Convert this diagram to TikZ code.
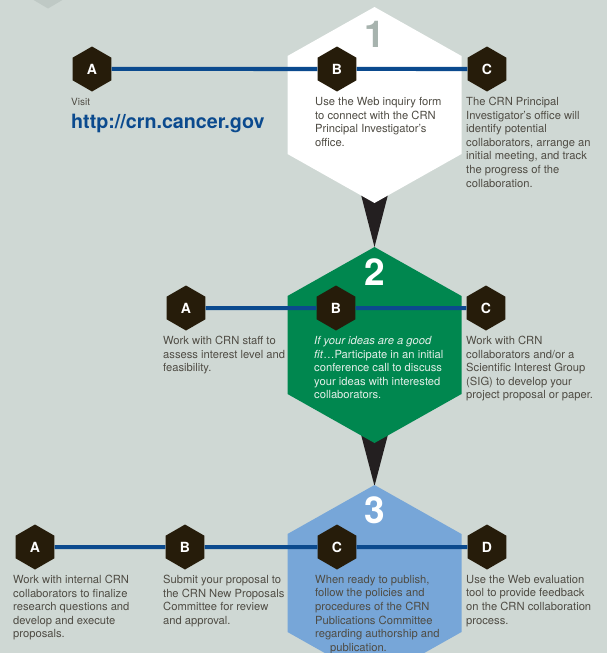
\documentclass[tikz,border=0pt]{standalone}
\usepackage{fontspec}
\setmainfont{TeX Gyre Heros}
\usepackage{tikz}
\usetikzlibrary{shapes.geometric}
\definecolor{bgcolor}{HTML}{CFD8D4}
\definecolor{shadehex}{HTML}{BFC9C5}
\definecolor{hexbrown}{HTML}{261C0A}
\definecolor{arrowblack}{HTML}{231F20}
\definecolor{linkblue}{HTML}{0B4A8E}
\definecolor{stepgreen}{HTML}{00874F}
\definecolor{stepblue}{HTML}{77A6D8}
\definecolor{onegray}{HTML}{A7B3AE}
\definecolor{notegray}{HTML}{4F4C44}
\definecolor{notelight}{HTML}{E4EFE9}
\tikzset{
  >=latex,
}
\tikzstyle{letter}=[regular polygon,regular polygon sides=6,shape border rotate=30,
  minimum size=45pt,inner sep=0pt,fill=hexbrown,text=white,
  font=\bfseries\fontsize{14}{14}\selectfont]
\tikzstyle{link}=[line width=4pt,linkblue]
\tikzstyle{note}=[anchor=north west,align=left,inner sep=0pt,text=notegray,
  font=\fontsize{11.2}{13.6}\selectfont]
\tikzstyle{stepnum}=[font=\bfseries\fontsize{37}{37}\selectfont]
\tikzstyle{pointer}=[fill=arrowblack]

\begin{document}
\begin{tikzpicture}[x=1pt,y=-1pt]
    \useasboundingbox (0,0) rectangle (607,653);
    \clip (0,0) rectangle (607,653);
    \fill[bgcolor] (0,0) rectangle (607,653);
    \fill[shadehex] (48,-36.5) -- (67.5,-25) -- (67.5,-3) -- (48,8.5) -- (28.5,-3) -- (28.5,-25) -- cycle;
    % arrows between the steps
    \fill[pointer] (358.5,185) -- (390.5,185) -- (374.5,247) -- cycle;
    \fill[pointer] (358.5,425) -- (390.5,425) -- (374.5,486) -- cycle;
    % the three steps
    \fill[white] (374.5,7) -- (461.5,56) -- (461.5,154) -- (374.5,203) -- (287.5,154) -- (287.5,56) -- cycle;
    \fill[stepgreen] (374.5,247) -- (461.5,296) -- (461.5,394) -- (374.5,443) -- (287.5,394) -- (287.5,296) -- cycle;
    \fill[stepblue] (374.5,485) -- (461.5,534) -- (461.5,632) -- (374.5,681) -- (287.5,632) -- (287.5,534) -- cycle;
    \node[stepnum,text=onegray] (n1) at (375,34) {1};
    \node[stepnum,text=white] (n2) at (375,272) {2};
    \node[stepnum,text=white] (n3) at (375,510) {3};

    % step 1
    \node[letter] (a1) at (92,69) {A};
    \node[letter] (b1) at (337,69) {B};
    \node[letter] (c1) at (487,69) {C};
    \draw[link] (a1) -- (b1) -- (c1);
    \node[note,font=\fontsize{10}{10}\selectfont] (visit) at (71,98) {Visit};
    \node[anchor=north west,inner sep=0pt,text=linkblue,font=\bfseries\fontsize{19.7}{19.7}\selectfont] (url) at (71,113.5) {http://crn.cancer.gov};
    \node[note] (b1txt) at ([xshift=-22pt,yshift=-28pt]b1.center) {Use the Web inquiry form\\to connect with the CRN\\Principal Investigator’s\\office.};
    \node[note] (c1txt) at ([xshift=-21pt,yshift=-28pt]c1.center) {The CRN Principal\\Investigator’s office will\\identify potential\\collaborators, arrange an\\initial meeting, and track\\the progress of the\\collaboration.};

    % step 2
    \node[letter] (a2) at (186,308) {A};
    \node[letter] (b2) at (336,308) {B};
    \node[letter] (c2) at (486,308) {C};
    \draw[link] (a2) -- (b2) -- (c2);
    \node[note] (a2txt) at ([xshift=-23pt,yshift=-28pt]a2.center) {Work with CRN staff to\\assess interest level and\\feasibility.};
    \node[note,text=notelight] (b2txt) at ([xshift=-22pt,yshift=-28pt]b2.center) {\textit{If your ideas are a good}\\\textit{fit}…Participate in an initial\\conference call to discuss\\your ideas with interested\\collaborators.};
    \node[note] (c2txt) at ([xshift=-20pt,yshift=-28pt]c2.center) {Work with CRN\\collaborators and/or a\\Scientific Interest Group\\(SIG) to develop your\\project proposal or paper.};

    % step 3
    \node[letter] (a3) at (35,547) {A};
    \node[letter] (b3) at (185,547) {B};
    \node[letter] (c3) at (337,547) {C};
    \node[letter] (d3) at (487,547) {D};
    \draw[link] (a3) -- (b3) -- (c3) -- (d3);
    \node[note] (a3txt) at ([xshift=-22pt,yshift=-28pt]a3.center) {Work with internal CRN\\collaborators to finalize\\research questions and\\develop and execute\\proposals.};
    \node[note] (b3txt) at ([xshift=-22pt,yshift=-28pt]b3.center) {Submit your proposal to\\the CRN New Proposals\\Committee for review\\and approval.};
    \node[note] (c3txt) at ([xshift=-22pt,yshift=-28pt]c3.center) {When ready to publish,\\follow the policies and\\procedures of the CRN\\Publications Committee\\regarding authorship and\\\hspace*{15pt}publication.};
    \node[note] (d3txt) at ([xshift=-21pt,yshift=-28pt]d3.center) {Use the Web evaluation\\tool to provide feedback\\on the CRN collaboration\\process.};
\end{tikzpicture}
\end{document}
